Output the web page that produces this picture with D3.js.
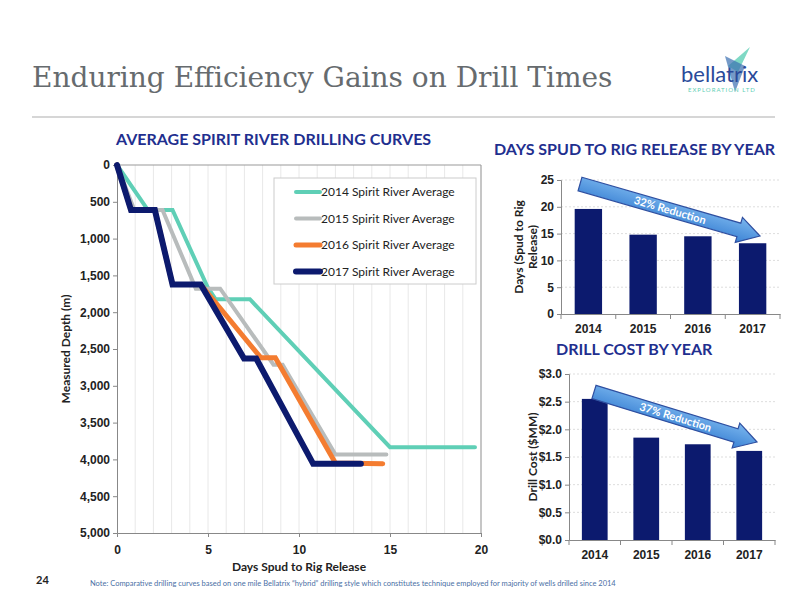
<!DOCTYPE html>
<html><head><meta charset="utf-8">
<script src="https://cdn.jsdelivr.net/npm/d3@7"></script>
<style>body{margin:0;background:#fff}svg{display:block;font-family:Lato,"Open Sans",sans-serif}</style>
</head><body><svg id="c" width="800" height="600"></svg>
<script>
// drilling curves: [day, depth m]
const curves = [
  {name: "2014 Spirit River Average", color: "#5fcfb6", w: 4, pts: [[0,0],[1.7,612],[3.05,612],[4.97,1656],[5.42,1824],[7.3,1824],[15.0,3834],[19.67,3834]]},
  {name: "2015 Spirit River Average", color: "#b8bcbc", w: 4, pts: [[0,0],[0.95,612],[2.5,612],[4.33,1680],[5.67,1680],[8.6,2713],[9.1,2713],[12.0,3934],[14.8,3934]]},
  {name: "2016 Spirit River Average", color: "#f47c30", w: 5, pts: [[0,0],[0.77,612],[2.08,612],[3.05,1624],[4.6,1624],[7.9,2618],[8.7,2618],[12.0,4050],[14.6,4060]]},
  {name: "2017 Spirit River Average", color: "#0c1a6e", w: 6, pts: [[0,0],[0.77,612],[2.08,612],[3.05,1624],[4.6,1624],[6.98,2630],[7.65,2630],[10.78,4060],[13.4,4060]]}
];
const years = ["2014","2015","2016","2017"];
const daysValues = [19.6, 14.8, 14.5, 13.2];
const costValues = [2.55, 1.85, 1.73, 1.61];

const svg = d3.select("#c");
const navy = "#0c1a6e", titleBlue = "#1f2f8f";

// header
svg.append("text").attr("x", 32).attr("y", 87).text("Enduring Efficiency Gains on Drill Times")
  .style("font-family", "'DejaVu Serif',serif").style("font-size", "28px").attr("fill", "#666b6e");
svg.append("line").attr("x1", 32).attr("x2", 775).attr("y1", 117).attr("y2", 117).attr("stroke", "#c8c8c8").attr("stroke-width", 1.5);
// logo
const logo = svg.append("g");
logo.append("path").attr("d", "M750,47 L738,72 L728,66 Z").attr("fill", "#5fcfb6").attr("opacity", 0.8);
logo.append("path").attr("d", "M725,56 L745,66 L735,92 Z").attr("fill", "#3a6fb0").attr("opacity", 0.7);
logo.append("text").attr("x", 681).attr("y", 82).text("bellatrix").attr("fill", "#2a4a9a")
  .style("font-size", "22px");
logo.append("text").attr("x", 688).attr("y", 92).text("EXPLORATION LTD").attr("fill", "#5fcfb6")
  .style("font-size", "6px").style("letter-spacing", "1px");

// ---- drilling curves
const m = {l: 117, r: 481, t: 165, b: 533};
const x = d3.scaleLinear().domain([0, 20]).range([m.l, m.r]);
const y = d3.scaleLinear().domain([0, 5000]).range([m.t, m.b]);
svg.append("text").attr("x", 116).attr("y", 145).text("AVERAGE SPIRIT RIVER DRILLING CURVES")
  .attr("fill", titleBlue).style("font-weight", "bold").style("font-size", "16px");
svg.append("g").selectAll("line").data(d3.range(1, 21)).join("line")
  .attr("x1", d => x(d)).attr("x2", d => x(d)).attr("y1", m.t).attr("y2", m.b).attr("stroke", "#e8e8e8");
svg.append("line").attr("x1", m.l).attr("x2", m.r).attr("y1", m.t).attr("y2", m.t).attr("stroke", "#999");
svg.append("line").attr("x1", m.r).attr("x2", m.r).attr("y1", m.t).attr("y2", m.b).attr("stroke", "#999");
const ya = svg.append("g").attr("transform", `translate(${m.l},0)`)
  .call(d3.axisLeft(y).tickValues(d3.range(0, 5001, 500)).tickFormat(d3.format(",")).tickSize(4));
const xa = svg.append("g").attr("transform", `translate(0,${m.b})`)
  .call(d3.axisBottom(x).tickValues([0,5,10,15,20]).tickSize(4));
xa.selectAll(".tick").filter(d => d === 0).select("line").remove();
[ya, xa].forEach(a => { a.selectAll("text").style("font-size", "12px").attr("fill", "#222").style("font-weight", "bold");
  a.selectAll("line,path").attr("stroke", "#888"); });
xa.selectAll("text").attr("dy", "1.2em");
svg.append("text").attr("transform", `translate(70,${(m.t + m.b) / 2}) rotate(-90)`).attr("text-anchor", "middle")
  .text("Measured Depth (m)").style("font-size", "12px").style("font-weight", "bold").attr("fill", "#222");
svg.append("text").attr("x", (m.l + m.r) / 2).attr("y", 571).attr("text-anchor", "middle")
  .text("Days Spud to Rig Release").style("font-size", "12px").style("font-weight", "bold").attr("fill", "#222");
const line = d3.line().x(d => x(d[0])).y(d => y(d[1]));
svg.append("g").selectAll("path").data(curves).join("path")
  .attr("d", d => line(d.pts)).attr("fill", "none").attr("stroke", d => d.color)
  .attr("stroke-width", d => d.w).attr("stroke-linejoin", "miter").attr("stroke-linecap", "round");
// legend
const lg = svg.append("g").attr("transform", "translate(274,178)");
lg.append("rect").attr("width", 202).attr("height", 106).attr("fill", "#fff").attr("stroke", "#ccc");
curves.forEach((c, i) => {
  const yy = 14 + i * 26.5;
  lg.append("line").attr("x1", 22).attr("x2", 46).attr("y1", yy).attr("y2", yy).attr("stroke", c.color).attr("stroke-width", c.w).attr("stroke-linecap", "round");
  lg.append("text").attr("x", 47).attr("y", yy + 4).text(c.name).style("font-size", "12px").attr("fill", "#222");
});

// ---- bar charts
function barChart(o) {
  const xs = d3.scaleBand().domain(years).range([o.l, o.r]).paddingInner(0.5).paddingOuter(0.25);
  const ys = d3.scaleLinear().domain([0, o.max]).range([o.b, o.t]);
  svg.append("text").attr("x", o.titleX).attr("y", o.titleY).text(o.title)
    .attr("fill", titleBlue).style("font-weight", "bold").style("font-size", "16px");
  svg.append("g").selectAll("line").data(ys.ticks(o.n).slice(1)).join("line")
    .attr("x1", o.l).attr("x2", o.r).attr("y1", d => ys(d)).attr("y2", d => ys(d))
    .attr("stroke", "#ddd").attr("stroke-dasharray", "2,2");
  svg.append("g").selectAll("rect").data(o.values).join("rect")
    .attr("x", (d, i) => xs(years[i])).attr("width", xs.bandwidth())
    .attr("y", d => ys(d)).attr("height", d => o.b - ys(d)).attr("fill", navy);
  const ay = svg.append("g").attr("transform", `translate(${o.l},0)`)
    .call(d3.axisLeft(ys).ticks(o.n).tickFormat(o.fmt).tickSize(4));
  const ax = svg.append("g").attr("transform", `translate(0,${o.b})`)
    .call(d3.axisBottom(xs).tickSize(0).tickSizeOuter(0));
  ax.selectAll(".sep").data([o.l, ...years.map(yv => xs(yv) + xs.bandwidth() + xs.step() * 0.25)]).join("line")
    .attr("x1", d => d).attr("x2", d => d).attr("y1", 0).attr("y2", 5).attr("stroke", "#888");
  [ay, ax].forEach(a => { a.selectAll("text").style("font-size", "12px").style("font-weight", "bold").attr("fill", "#222");
    a.selectAll("line,path").attr("stroke", "#888"); });
  ax.selectAll("text").attr("dy", "1.3em");
  const lbl = svg.append("text").attr("transform", `translate(${o.labX},${(o.t + o.b) / 2}) rotate(-90)`)
    .attr("text-anchor", "middle").style("font-size", "12px").style("font-weight", "bold").attr("fill", "#222");
  o.label.forEach((t, i) => lbl.append("tspan").attr("x", 0).attr("dy", i ? "1.15em" : (o.label.length > 1 ? "-0.3em" : 0)).text(t));
  // block arrow
  const [x0, y0, x1, y1] = o.arrow, ang = Math.atan2(y1 - y0, x1 - x0) * 180 / Math.PI;
  const len = Math.hypot(x1 - x0, y1 - y0), hw = 7, hh = 13, hl = 22;
  const ag = svg.append("g").attr("transform", `translate(${x0},${y0}) rotate(${ang})`);
  ag.append("path").attr("d", `M0,${-hw} L${len - hl},${-hw} L${len - hl},${-hh} L${len},0 L${len - hl},${hh} L${len - hl},${hw} L0,${hw} Z`)
    .attr("fill", "url(#ag)").attr("stroke", "#2f4fa0").attr("stroke-width", 1.2);
  ag.append("text").attr("x", len / 2).attr("y", 4).attr("text-anchor", "middle").text(o.arrowText)
    .attr("fill", "#fff").style("font-size", "11px").style("font-weight", "bold");
}
const grad = svg.append("defs").append("linearGradient").attr("id", "ag").attr("x1", 0).attr("y1", 0).attr("x2", 0).attr("y2", 1);
grad.append("stop").attr("offset", 0).attr("stop-color", "#7ab6ee");
grad.append("stop").attr("offset", 1).attr("stop-color", "#3b82d4");

barChart({title: "DAYS SPUD TO RIG RELEASE BY YEAR", titleX: 494, titleY: 155, l: 561, r: 780, t: 180, b: 314,
  max: 25, n: 5, values: daysValues, fmt: d3.format("d"), label: ["Days (Spud to Rig", "Release)"], labX: 527,
  arrow: [580, 184, 760, 236], arrowText: "32% Reduction"});
barChart({title: "DRILL COST BY YEAR", titleX: 556, titleY: 355, l: 569, r: 775, t: 374, b: 540,
  max: 3, n: 6, values: costValues, fmt: d => "$" + d3.format(".1f")(d), label: ["Drill Cost ($MM)"], labX: 537,
  arrow: [594, 392, 757, 442], arrowText: "37% Reduction"});

// footer
svg.append("text").attr("x", 36).attr("y", 584).text("24").style("font-size", "11px").style("font-weight", "bold").attr("fill", "#222");
svg.append("text").attr("x", 90).attr("y", 586)
  .text("Note: Comparative drilling curves based on one mile Bellatrix \u201chybrid\u201d drilling style which constitutes technique employed for majority of wells drilled since 2014")
  .style("font-size", "7.5px").attr("fill", "#4a6fa5");
</script></body></html>
